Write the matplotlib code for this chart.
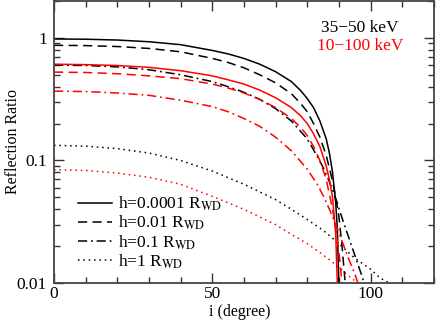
import numpy as np
import matplotlib
matplotlib.use("Agg")
import matplotlib.pyplot as plt
from matplotlib.ticker import LogLocator, NullFormatter, MultipleLocator, FixedLocator, FixedFormatter

plt.rcParams['font.family'] = ['Liberation Serif', 'DejaVu Serif']
plt.rcParams['mathtext.fontset'] = 'stix'

# 35-50 keV (black)
x_b1 = [0, 10, 20, 30, 40, 50, 55, 60, 65, 70, 75, 78, 80, 82, 84, 86, 87, 88, 89, 89.5, 90]
y_b1 = [0.98, 0.975, 0.96, 0.93, 0.88, 0.79, 0.74, 0.68, 0.61, 0.53, 0.44, 0.37, 0.32, 0.27, 0.21, 0.15, 0.115, 0.08, 0.045, 0.028, 0.01]
x_b2 = [0, 10, 20, 30, 40, 50, 55, 60, 65, 70, 75, 78, 80, 82, 84, 86, 88, 89, 90, 91, 92]
y_b2 = [0.87, 0.865, 0.85, 0.82, 0.77, 0.68, 0.63, 0.57, 0.5, 0.43, 0.35, 0.29, 0.25, 0.2, 0.155, 0.11, 0.068, 0.05, 0.035, 0.02, 0.01]
x_b3 = [0, 10, 20, 30, 40, 50, 55, 60, 65, 70, 75, 80, 83, 85, 87, 89, 91, 93, 95, 97, 98]
y_b3 = [0.6, 0.595, 0.58, 0.55, 0.5, 0.44, 0.40, 0.36, 0.315, 0.265, 0.21, 0.15, 0.11, 0.088, 0.067, 0.049, 0.034, 0.024, 0.017, 0.012, 0.01]
x_b4 = [0, 10, 20, 30, 40, 50, 60, 70, 75, 80, 85, 90, 95, 100, 103, 106]
y_b4 = [0.133, 0.131, 0.125, 0.115, 0.1, 0.082, 0.064, 0.048, 0.04, 0.033, 0.027, 0.021, 0.016, 0.013, 0.011, 0.01]

# 10-100 keV (red)
x_r1 = [0, 10, 20, 30, 40, 50, 55, 60, 65, 70, 75, 78, 80, 82, 84, 86, 87, 88, 89, 89.5]
y_r1 = [0.61, 0.605, 0.595, 0.575, 0.54, 0.49, 0.455, 0.42, 0.375, 0.325, 0.27, 0.23, 0.2, 0.165, 0.13, 0.09, 0.07, 0.05, 0.025, 0.01]
x_r2 = [0, 10, 20, 30, 40, 50, 55, 60, 65, 70, 75, 78, 80, 82, 84, 86, 88, 89, 90, 91]
y_r2 = [0.526, 0.522, 0.51, 0.49, 0.465, 0.42, 0.39, 0.355, 0.315, 0.27, 0.22, 0.185, 0.16, 0.13, 0.1, 0.07, 0.04, 0.028, 0.018, 0.01]
x_r3 = [0, 10, 20, 30, 40, 50, 55, 60, 65, 70, 75, 80, 83, 85, 87, 89, 91, 93, 95, 96]
y_r3 = [0.368, 0.365, 0.355, 0.34, 0.31, 0.275, 0.25, 0.22, 0.19, 0.155, 0.12, 0.085, 0.065, 0.052, 0.04, 0.03, 0.022, 0.016, 0.012, 0.01]
x_r4 = [0, 10, 20, 30, 40, 50, 60, 70, 75, 80, 85, 90, 93, 96]
y_r4 = [0.084, 0.083, 0.079, 0.073, 0.064, 0.051, 0.040, 0.03, 0.025, 0.021, 0.017, 0.0135, 0.0115, 0.01]

labels = [r'h=0.0001 R$_{\rm WD}$', r'h=0.01 R$_{\rm WD}$',
          r'h=0.1 R$_{\rm WD}$', r'h=1 R$_{\rm WD}$']

styles = ['-', (0, (6, 3.5)), (0, (6, 2.5, 1.2, 2.5)), (0, (1, 2.5))]

fig = plt.figure(figsize=(4.36, 3.21), dpi=100)
ax = fig.add_axes([0.124, 0.118, 0.871, 0.879])

blacks = [(x_b1, y_b1), (x_b2, y_b2), (x_b3, y_b3), (x_b4, y_b4)]
reds = [(x_r1, y_r1), (x_r2, y_r2), (x_r3, y_r3), (x_r4, y_r4)]
handles = []
for (x, y), ls, lab in zip(blacks, styles, labels):
    h, = ax.plot(x, y, color='black', ls=ls, lw=1.1, label=lab)
    handles.append(h)
for (x, y), ls in zip(reds, styles):
    ax.plot(x, y, color='red', ls=ls, lw=1.1)

ax.set_yscale('log')
ax.set_xlim(0, 120)
ax.set_ylim(0.01, 2)

ax.xaxis.set_major_locator(FixedLocator([0, 50, 100]))
ax.xaxis.set_minor_locator(MultipleLocator(10))
ax.yaxis.set_major_locator(FixedLocator([0.01, 0.1, 1]))
ax.yaxis.set_major_formatter(FixedFormatter(['0.01', '0.1', '1']))
ax.yaxis.set_minor_locator(LogLocator(base=10, subs=np.arange(2, 10)))
ax.yaxis.set_minor_formatter(NullFormatter())
ax.tick_params(which='both', direction='in', top=True, right=True, labelsize=12.5, color='#333333')
ax.tick_params(which='major', length=7, width=1)
ax.tick_params(axis='y', which='major', pad=5)
ax.tick_params(axis='x', which='major', pad=2)
ax.tick_params(which='minor', length=4, width=1)
for s in ax.spines.values():
    s.set_color('#444444')
    s.set_linewidth(1.3)

fig.text(0.55, 0.004, 'i (degree)', fontsize=11.5, ha='center', va='bottom')
fig.text(0.012, 0.56, 'Reflection Ratio', fontsize=11.5, ha='left', va='center', rotation=90)

ax.text(0.805, 0.905, '35\u221250 keV', transform=ax.transAxes, fontsize=12.5, color='black', ha='center', va='center')
ax.text(0.805, 0.84, '10\u2212100 keV', transform=ax.transAxes, fontsize=12.5, color='red', ha='center', va='center')

leg = ax.legend(handles=handles, loc='lower left', bbox_to_anchor=(0.03, 0.0), frameon=False,
                fontsize=12.5, handlelength=2.0, handletextpad=0.3, labelspacing=0.05, borderaxespad=0.3)

fig.savefig('out.png', dpi=100)
